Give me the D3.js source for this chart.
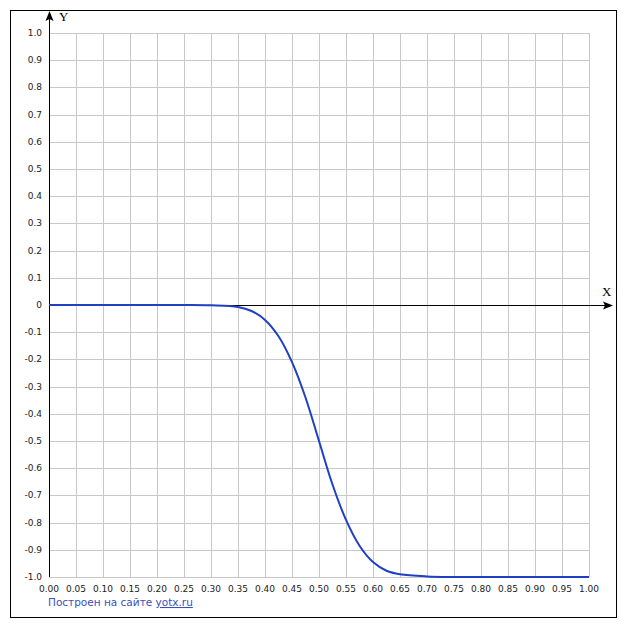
<!DOCTYPE html>
<html><head><meta charset="utf-8">
<script src="https://cdn.jsdelivr.net/npm/d3@7"></script>
<style>body{margin:0;background:#fff}svg text{font-family:"DejaVu Sans",Verdana,sans-serif}svg text.ax{font-family:"Liberation Serif",serif}</style>
</head><body><svg id="c" width="627" height="630"></svg>
<script>
// curve points
var xs = [0, 0.1, 0.2, 0.25, 0.3, 0.35, 0.375, 0.4, 0.425, 0.45, 0.475, 0.5, 0.525, 0.55, 0.575, 0.6, 0.625, 0.65, 0.7, 0.75, 0.8, 0.9, 1];
var ys = [0, 0, 0, 0, -0.001, -0.007, -0.022, -0.055, -0.115, -0.21, -0.34, -0.5, -0.66, -0.79, -0.885, -0.945, -0.977, -0.99, -0.998, -1, -1, -1, -1];
var xTicks = d3.range(0, 1.0001, 0.05);
var yTicks = d3.range(-1, 1.0001, 0.1);

var svg = d3.select('#c');
var x = d3.scaleLinear().domain([0, 1]).range([49, 589]);
var y = d3.scaleLinear().domain([-1, 1]).range([577, 33]);

svg.append('rect').attr('x', 10.5).attr('y', 10.5).attr('width', 606).attr('height', 607)
    .attr('fill', 'none').attr('stroke', '#000');

var grid = svg.append('g').attr('stroke', '#c8c8c8').attr('stroke-width', 1);
xTicks.forEach(function (t) {
    grid.append('line').attr('x1', Math.round(x(t)) + 0.5).attr('x2', Math.round(x(t)) + 0.5)
        .attr('y1', y(1)).attr('y2', y(-1));
});
yTicks.forEach(function (t) {
    grid.append('line').attr('y1', Math.round(y(t)) + 0.5).attr('y2', Math.round(y(t)) + 0.5)
        .attr('x1', x(0)).attr('x2', x(1));
});

// labels
svg.append('g').selectAll('text').data(xTicks).join('text')
    .attr('x', function (d) { return x(d); }).attr('y', 592)
    .attr('text-anchor', 'middle').attr('font-size', 9).attr('fill', '#222')
    .text(function (d) { return d.toFixed(2); });
svg.append('g').selectAll('text').data(yTicks).join('text')
    .attr('x', 42).attr('y', function (d) { return y(d) + 3; })
    .attr('text-anchor', 'end').attr('font-size', 9).attr('fill', '#222')
    .text(function (d) { var v = Math.round(d * 10) / 10; return v === 0 ? '0' : v.toFixed(1); });

// axes with arrows
var y0 = Math.round(y(0)) + 0.5, x0 = Math.round(x(0)) + 0.5;
svg.append('line').attr('x1', x0).attr('x2', 608).attr('y1', y0).attr('y2', y0).attr('stroke', '#000');
svg.append('path').attr('d', 'M613,' + y0 + 'L603,' + (y0 - 4) + 'L605,' + y0 + 'L603,' + (y0 + 4) + 'Z');
svg.append('line').attr('x1', x0).attr('x2', x0).attr('y1', 577).attr('y2', 16).attr('stroke', '#000');
svg.append('path').attr('d', 'M' + x0 + ',11L' + (x0 - 4) + ',21L' + x0 + ',19L' + (x0 + 4) + ',21Z');
svg.append('text').attr('class', 'ax').attr('x', 602).attr('y', 296).attr('font-size', 13).text('X');
svg.append('text').attr('class', 'ax').attr('x', 59).attr('y', 21).attr('font-size', 13).text('Y');

// curve
var line = d3.line().curve(d3.curveCatmullRom)
    .x(function (d) { return x(d[0]); }).y(function (d) { return y(d[1]); });
svg.append('path').datum(d3.zip(xs, ys)).attr('d', line)
    .attr('fill', 'none').attr('stroke', '#1f3fc4').attr('stroke-width', 2);

// footer
var ft = svg.append('text').attr('x', 48).attr('y', 606).attr('font-size', 10.5).attr('fill', '#3a4fb8');
ft.append('tspan').text('Построен на сайте ');
ft.append('tspan').attr('text-decoration', 'underline').text('yotx.ru');
</script></body></html>
